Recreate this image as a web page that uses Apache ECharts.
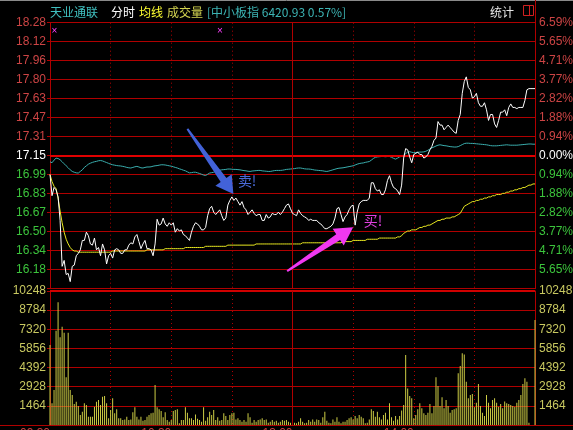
<!DOCTYPE html>
<html><head><meta charset="utf-8">
<script src="https://cdn.jsdelivr.net/npm/echarts@6/dist/echarts.min.js"></script>
<style>html,body{margin:0;padding:0;background:#000;}#c{width:573px;height:430px;}</style>
</head><body><div id="c"></div>
<script>
// ---------- data ----------
const stockName = '天业通联';
const indexName = '中小板指';
const indexLast = '6420.93';
const indexChange = '0.57%';
const prevClose = 17.15;
const timeLabels = ['09:30', '10:30', '13:00', '14:00'];
const priceLabels = ['16.18','16.34','16.50','16.67','16.83','16.99','17.15','17.31','17.47','17.63','17.80','17.96','18.12','18.28'];
const pctLabels = ['5.65%','4.71%','3.77%','2.82%','1.88%','0.94%','0.00%','0.94%','1.88%','2.82%','3.77%','4.71%','5.65%','6.59%'];
const volLabels = ['1464','2928','4392','5856','7320','8784','10248'];

const price = [
16.99,16.81,16.88,16.86,16.80,16.60,16.21,16.26,16.14,16.15,
16.08,16.21,16.22,16.30,16.32,16.35,16.43,16.43,16.50,16.47,
16.40,16.39,16.45,16.35,16.37,16.30,16.40,16.35,16.23,16.30,
16.32,16.28,16.35,16.36,16.35,16.32,16.32,16.35,16.35,16.39,
16.41,16.40,16.46,16.48,16.42,16.36,16.40,16.43,16.36,16.36,
16.35,16.30,16.40,16.61,16.56,16.57,16.62,16.57,16.55,16.58,
16.56,16.58,16.50,16.53,16.51,16.52,16.48,16.47,16.45,16.43,
16.50,16.55,16.58,16.57,16.55,16.52,16.52,16.54,16.64,16.70,
16.72,16.67,16.65,16.67,16.69,16.64,16.60,16.62,16.73,16.77,
16.80,16.77,16.79,16.76,16.73,16.76,16.71,16.69,16.65,16.67,
16.69,16.66,16.64,16.65,16.65,16.60,16.60,16.65,16.62,16.63,
16.66,16.65,16.65,16.67,16.65,16.67,16.70,16.73,16.74,16.70,
16.66,16.65,16.64,16.69,16.66,16.64,16.63,16.62,16.60,16.61,
16.60,16.60,16.60,16.58,16.57,16.55,16.53,16.53,16.54,16.55,
16.57,16.62,16.70,16.71,16.65,16.59,16.63,16.65,16.69,16.72,
16.73,16.56,16.67,16.74,16.76,16.77,16.77,16.77,16.79,16.92,
16.92,16.87,16.85,16.86,16.82,16.82,16.86,16.94,16.98,16.92,
16.88,16.87,16.85,16.82,16.90,17.13,17.21,17.20,17.14,17.09,
17.16,17.17,17.18,17.16,17.16,17.13,17.14,17.16,17.20,17.23,
17.28,17.30,17.44,17.41,17.41,17.37,17.39,17.41,17.39,17.37,
17.35,17.34,17.45,17.50,17.68,17.78,17.82,17.73,17.71,17.64,
17.65,17.68,17.60,17.57,17.57,17.60,17.54,17.45,17.50,17.50,
17.42,17.39,17.45,17.52,17.52,17.54,17.49,17.56,17.59,17.56,
17.56,17.55,17.56,17.56,17.56,17.62,17.71,17.72,17.72,17.72,
17.72];

const avgPrice = [
16.99,16.93,16.89,16.87,16.79,16.68,16.58,16.50,16.44,16.40,
16.37,16.35,16.34,16.34,16.33,16.33,16.33,16.33,16.33,16.33,
16.33,16.33,16.33,16.33,16.33,16.33,16.33,16.33,16.33,16.33,
16.33,16.34,16.34,16.34,16.34,16.34,16.34,16.34,16.34,16.34,
16.34,16.34,16.34,16.34,16.34,16.34,16.34,16.34,16.35,16.35,
16.35,16.35,16.35,16.35,16.35,16.35,16.35,16.36,16.36,16.36,
16.36,16.36,16.36,16.36,16.36,16.36,16.36,16.37,16.37,16.37,
16.37,16.37,16.37,16.37,16.37,16.37,16.37,16.38,16.38,16.38,
16.38,16.38,16.38,16.38,16.38,16.38,16.38,16.38,16.39,16.39,
16.39,16.39,16.39,16.39,16.39,16.39,16.39,16.39,16.39,16.39,
16.39,16.39,16.40,16.40,16.40,16.40,16.40,16.40,16.40,16.40,
16.40,16.40,16.40,16.40,16.40,16.40,16.40,16.40,16.40,16.40,
16.40,16.40,16.40,16.40,16.40,16.41,16.41,16.41,16.41,16.41,
16.41,16.41,16.41,16.41,16.41,16.41,16.41,16.41,16.41,16.41,
16.41,16.41,16.41,16.41,16.41,16.42,16.42,16.42,16.42,16.42,
16.43,16.43,16.43,16.43,16.43,16.43,16.43,16.44,16.44,16.44,
16.44,16.44,16.44,16.45,16.45,16.45,16.45,16.45,16.45,16.45,
16.45,16.45,16.46,16.46,16.47,16.49,16.50,16.51,16.51,16.52,
16.52,16.52,16.53,16.54,16.54,16.55,16.55,16.56,16.56,16.57,
16.58,16.59,16.60,16.60,16.61,16.61,16.62,16.62,16.62,16.63,
16.63,16.64,16.65,16.66,16.69,16.72,16.73,16.74,16.75,16.76,
16.76,16.77,16.77,16.78,16.78,16.79,16.79,16.80,16.80,16.81,
16.81,16.82,16.82,16.82,16.83,16.83,16.84,16.84,16.85,16.85,
16.86,16.86,16.87,16.87,16.88,16.88,16.89,16.90,16.90,16.91,
16.91];

// 中小板指 change vs. its previous close, in %
const indexPct = [
-0.30,-0.35,-0.22,-0.12,-0.14,-0.20,-0.30,-0.40,-0.50,-0.60,
-0.70,-0.78,-0.82,-0.85,-0.86,-0.78,-0.70,-0.58,-0.50,-0.42,
-0.37,-0.33,-0.30,-0.28,-0.25,-0.24,-0.26,-0.30,-0.34,-0.38,
-0.42,-0.45,-0.47,-0.49,-0.50,-0.51,-0.53,-0.55,-0.58,-0.60,
-0.61,-0.58,-0.55,-0.53,-0.56,-0.60,-0.61,-0.58,-0.56,-0.56,
-0.55,-0.52,-0.50,-0.49,-0.47,-0.45,-0.45,-0.46,-0.48,-0.50,
-0.52,-0.55,-0.58,-0.61,-0.65,-0.68,-0.72,-0.75,-0.80,-0.85,
-0.84,-0.82,-0.82,-0.85,-0.88,-0.92,-0.96,-0.98,-0.92,-0.86,
-0.84,-0.82,-0.78,-0.74,-0.72,-0.70,-0.69,-0.68,-0.66,-0.66,
-0.67,-0.68,-0.68,-0.69,-0.70,-0.72,-0.74,-0.75,-0.77,-0.78,
-0.76,-0.75,-0.74,-0.73,-0.73,-0.75,-0.76,-0.77,-0.78,-0.78,
-0.76,-0.74,-0.73,-0.73,-0.73,-0.72,-0.70,-0.68,-0.67,-0.66,
-0.65,-0.64,-0.62,-0.61,-0.61,-0.63,-0.65,-0.66,-0.66,-0.67,
-0.69,-0.71,-0.72,-0.73,-0.74,-0.75,-0.77,-0.78,-0.76,-0.73,
-0.70,-0.67,-0.64,-0.62,-0.61,-0.60,-0.58,-0.56,-0.54,-0.52,
-0.50,-0.46,-0.42,-0.39,-0.37,-0.36,-0.33,-0.31,-0.29,-0.22,
-0.14,-0.08,-0.06,-0.05,-0.04,-0.04,-0.05,-0.04,-0.04,-0.08,
-0.13,-0.17,-0.12,-0.06,-0.03,0.02,0.10,0.18,0.20,0.17,
0.15,0.16,0.17,0.18,0.18,0.19,0.22,0.27,0.33,0.39,
0.43,0.48,0.52,0.54,0.52,0.50,0.49,0.47,0.45,0.44,
0.43,0.43,0.45,0.50,0.55,0.60,0.62,0.62,0.61,0.61,
0.60,0.59,0.58,0.57,0.56,0.55,0.54,0.52,0.50,0.49,
0.49,0.49,0.50,0.51,0.52,0.53,0.54,0.53,0.52,0.52,
0.52,0.52,0.53,0.54,0.55,0.56,0.57,0.58,0.58,0.57,
0.57];

const volume = [
6120,1660,2680,7215,9390,6710,7520,7060,3650,7060,
2680,2300,1610,1780,1450,765,1020,1660,1530,640,
640,640,1400,1780,1910,1530,2170,2210,1660,510,
1150,2040,890,1200,510,510,380,420,640,380,
420,970,1350,640,420,640,330,380,640,765,
890,940,3060,1350,1200,1070,585,970,380,255,
380,1070,1150,1200,130,380,380,1350,940,510,
510,380,810,485,380,255,1350,330,585,1020,
765,1150,380,585,330,380,890,685,380,765,
890,940,420,510,380,255,380,255,890,
585,180,380,255,380,420,510,380,420,180,
255,380,255,330,180,255,380,330,380,255,
180,380,180,130,255,510,255,130,180,380,
255,430,255,430,380,180,585,1020,330,180,
130,430,255,585,255,130,255,255,380,510,
585,430,690,510,765,640,510,130,180,430,
1200,1070,640,1020,585,430,765,940,430,1660,
585,330,690,430,690,1100,1530,5355,2800,2220,
2040,510,765,1200,1660,1280,890,765,940,
1610,890,1450,3650,2980,1450,2120,1280,1910,1450,
940,1150,1200,1280,3950,4510,5480,5400,3300,2040,
2300,2370,1350,1710,3140,1450,940,690,2300,1710,
1280,1910,2040,1710,1400,1610,1280,1790,1660,1610,
1530,1450,1400,1710,1910,2300,3140,3570,3300,180,
0,0,8030];

// ---------- derived ----------
const minutes = [];
for (let i = 0; i <= 240; i++) minutes.push(String(i));
const pMax = prevClose * 1.0659;
const pMin = prevClose * (1 - 0.0659);
const pStep = (pMax - pMin) / 14;
const indexLine = indexPct.map(p => +(prevClose * (1 + p / 100)).toFixed(4));
const volMax = 10248, volStep = 1464;

const RED = '#b00000';
const FONT = '"Liberation Sans", Arial, sans-serif';
const CJK = '"Noto Sans CJK SC", "Liberation Sans", sans-serif';
const richCols = {
  r: { color: '#cc4444', fontSize: 12, fontFamily: FONT },
  g: { color: '#3cc43c', fontSize: 12, fontFamily: FONT },
  w: { color: '#ffffff', fontSize: 12, fontFamily: FONT }
};
function priceFmt(labels) {
  return v => {
    const k = Math.round((v - pMin) / pStep);
    if (k < 1 || k > 14) return '';
    const cls = k < 7 ? 'g' : (k > 7 ? 'r' : 'w');
    return '{' + cls + '|' + labels[k - 1] + '}';
  };
}
function volFmt(v) {
  const k = Math.round(v / volStep);
  return (k >= 1 && k <= 7) ? volLabels[k - 1] : '';
}
const dotted = (idx) => idx % 30 === 0 && idx !== 0 && idx !== 120 && idx !== 240;

const chart = echarts.init(document.getElementById('c'));
const option = {
  backgroundColor: '#000',
  animation: false,
  grid: [
    { left: 50, right: 38, top: 22.7, height: 266, containLabel: false, outerBoundsMode: 'none' },
    { left: 50, right: 38, top: 291, height: 134, containLabel: false, outerBoundsMode: 'none' }
  ],
  xAxis: [
    { type: 'category', gridIndex: 0, data: minutes, boundaryGap: false,
      axisLine: { show: false }, axisTick: { show: false }, axisLabel: { show: false },
      splitLine: { show: true, interval: dotted, lineStyle: { color: RED, width: 1, type: [1, 3] } } },
    { type: 'category', gridIndex: 1, data: minutes, boundaryGap: false,
      axisLine: { show: true, lineStyle: { color: RED } }, axisTick: { show: false },
      axisLabel: { show: true, interval: (idx) => idx % 60 === 0 && idx < 240,
        formatter: (v, idx) => timeLabels[Math.round(idx / 60)] || '',
        align: 'right', margin: 3, color: '#c84040', fontSize: 12, fontFamily: FONT, showMinLabel: true },
      splitLine: { show: true, interval: dotted, lineStyle: { color: RED, width: 1, type: [1, 3] } } }
  ],
  yAxis: [
    { type: 'value', gridIndex: 0, position: 'left', min: pMin, max: pMax, interval: pStep,
      axisLine: { show: true, lineStyle: { color: RED } },
      axisTick: { show: true, length: 3, lineStyle: { color: RED } },
      splitLine: { show: true, lineStyle: { color: RED, width: 1 } },
      axisLabel: { margin: 4, formatter: priceFmt(priceLabels), rich: richCols } },
    { type: 'value', gridIndex: 0, position: 'right', min: pMin, max: pMax, interval: pStep,
      axisLine: { show: true, lineStyle: { color: RED } },
      axisTick: { show: false }, splitLine: { show: false },
      axisLabel: { margin: 4, formatter: priceFmt(pctLabels), rich: richCols } },
    { type: 'value', gridIndex: 1, position: 'left', min: 0, max: volMax, interval: volStep,
      axisLine: { show: true, lineStyle: { color: RED } },
      axisTick: { show: true, length: 3, lineStyle: { color: RED } },
      splitLine: { show: true, lineStyle: { color: RED, width: 1 } },
      axisLabel: { margin: 4, formatter: volFmt, color: '#c8c860', fontSize: 12, fontFamily: FONT } },
    { type: 'value', gridIndex: 1, position: 'right', min: 0, max: volMax, interval: volStep,
      axisLine: { show: true, lineStyle: { color: RED } },
      axisTick: { show: false }, splitLine: { show: false },
      axisLabel: { margin: 4, formatter: volFmt, color: '#c8c860', fontSize: 12, fontFamily: FONT } }
  ],
  series: [
    { name: indexName, type: 'line', xAxisIndex: 0, yAxisIndex: 0, data: indexLine,
      symbol: 'none', lineStyle: { color: '#3aaeae', width: 1 }, z: 3,
      markLine: { silent: true, symbol: ['none', 'none'], label: { show: false },
        data: [
          { yAxis: prevClose, lineStyle: { color: '#e00000', width: 2, type: 'solid' } },
          { xAxis: '120', lineStyle: { color: RED, width: 1, type: 'solid' } }
        ] } },
    { name: '均线', type: 'line', xAxisIndex: 0, yAxisIndex: 0, data: avgPrice,
      symbol: 'none', lineStyle: { color: '#e8e820', width: 1 }, z: 4 },
    { name: '分时', type: 'line', xAxisIndex: 0, yAxisIndex: 0, data: price,
      symbol: 'none', lineStyle: { color: '#ffffff', width: 1 }, z: 5 },
    { name: '成交量', type: 'bar', xAxisIndex: 1, yAxisIndex: 2, data: volume,
      barWidth: 1, itemStyle: { color: '#cccc44' }, z: 3,
      markLine: { silent: true, symbol: ['none', 'none'], label: { show: false },
        data: [
          { yAxis: volMax, lineStyle: { color: '#d00000', width: 2, type: 'solid' } },
          { xAxis: '120', lineStyle: { color: RED, width: 1, type: 'solid' } }
        ] } }
  ]
};
chart.setOption(option);

// ---------- annotations ----------
function arrowPts(tail, tip, headLen, headHalf, shaftTail, shaftHead) {
  const dx = tip[0] - tail[0], dy = tip[1] - tail[1];
  const L = Math.hypot(dx, dy), ux = dx / L, uy = dy / L, nx = -uy, ny = ux;
  const bx = tip[0] - ux * headLen, by = tip[1] - uy * headLen;
  return [
    [tail[0] + nx * shaftTail, tail[1] + ny * shaftTail],
    [bx + nx * shaftHead, by + ny * shaftHead],
    [bx + nx * headHalf, by + ny * headHalf],
    tip,
    [bx - nx * headHalf, by - ny * headHalf],
    [bx - nx * shaftHead, by - ny * shaftHead],
    [tail[0] - nx * shaftTail, tail[1] - ny * shaftTail]
  ];
}
const sellIdx = 90, buyIdx = 151;
const sp = chart.convertToPixel({ xAxisIndex: 0, yAxisIndex: 0 }, [sellIdx, price[sellIdx]]);
const bp = chart.convertToPixel({ xAxisIndex: 0, yAxisIndex: 0 }, [buyIdx, price[buyIdx]]);
const sellTip = [sp[0] + 1.5, sp[1] - 3];
const buyTip = [bp[0] - 2, bp[1] + 2];
const sellTail = [sellTip[0] - 46, sellTip[1] - 65];
const buyTail = [buyTip[0] - 66, buyTip[1] + 44];

function txt(x, y, text, fill, font, align) {
  return { type: 'text', x: x, y: y, silent: true, z: 10,
    style: { text: text, fill: fill, font: font, textAlign: align || 'left', textVerticalAlign: 'middle' } };
}
function ln(x1, y1, x2, y2, stroke, w) {
  return { type: 'line', silent: true, z: 1, shape: { x1: x1, y1: y1, x2: x2, y2: y2 },
    style: { stroke: stroke, lineWidth: w || 1 } };
}

chart.setOption({
  graphic: [
    ln(0, 0.5, 573, 0.5, '#8a8a8a', 1),
    ln(535.5, 0, 535.5, 23, RED, 1),
    ln(0, 425.5, 573, 425.5, RED, 1),
    txt(50, 12.5, stockName, '#40c0c0', '12px ' + CJK),
    txt(111, 12.5, '分时', '#ffffff', '12px ' + CJK),
    txt(139, 12.5, '均线', '#ffff30', '12px ' + CJK),
    txt(167, 12.5, '成交量', '#d4d450', '12px ' + CJK),
    txt(207, 12.5, '[' + indexName + ' ' + indexLast + ' ' + indexChange + ']', '#3cb4b4', '12px ' + CJK),
    txt(490, 12.5, '统计', '#e8e8e8', '12px ' + CJK),
    { type: 'rect', silent: true, z: 10, shape: { x: 523.5, y: 5.5, width: 10, height: 10 },
      style: { fill: 'none', stroke: '#d02020', lineWidth: 1 } },
    ln(529.5, 5.5, 529.5, 15.5, '#d02020', 1),
    txt(54.5, 31, '×', '#ff40ff', '10px ' + FONT, 'center'),
    txt(220, 31, '×', '#ff40ff', '10px ' + FONT, 'center'),
    { type: 'polygon', silent: true, z: 9,
      shape: { points: arrowPts(sellTail, sellTip, 17, 10, 1, 3.5) },
      style: { fill: '#4262d8' } },
    { type: 'polygon', silent: true, z: 9,
      shape: { points: arrowPts(buyTail, buyTip, 18, 10, 1, 3.5) },
      style: { fill: '#f038f0' } },
    txt(sellTip[0] + 4.5, sellTip[1] - 13, '卖!', '#4a6ad8', '14px ' + CJK),
    txt(buyTip[0] + 10.5, buyTip[1] - 6.5, '买!', '#e040e0', '14px ' + CJK)
  ]
});
</script>
</body></html>
